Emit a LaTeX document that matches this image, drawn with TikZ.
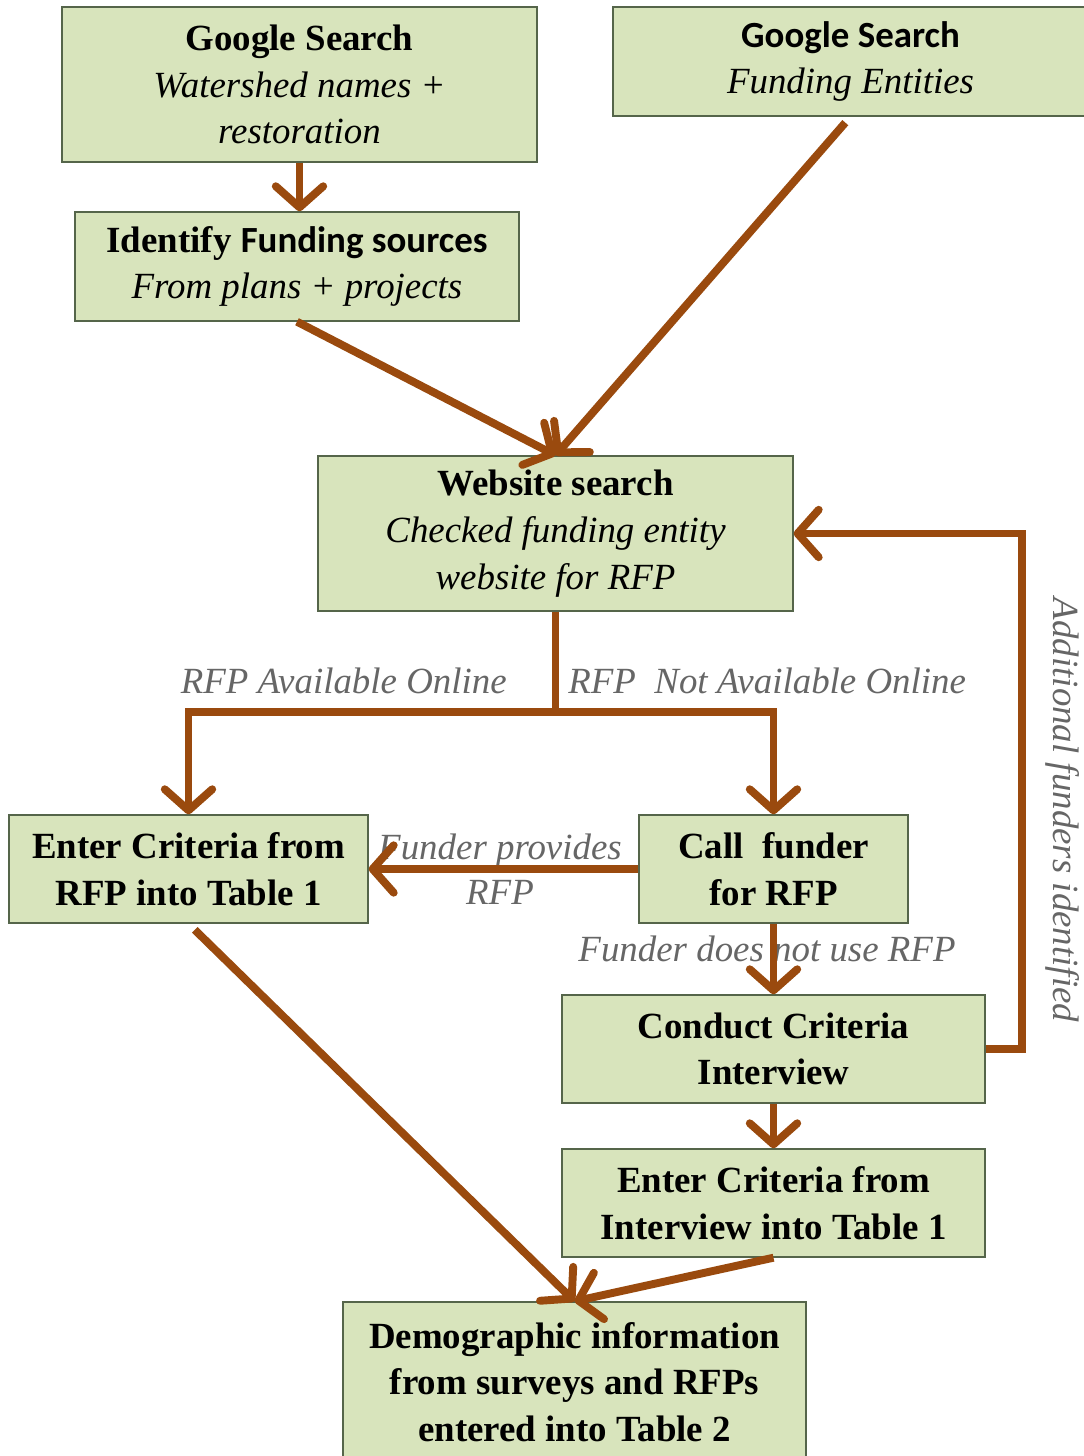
\documentclass[tikz,border=0pt]{standalone}
\usepackage{fontspec}
\setmainfont{Liberation Serif}
\newfontfamily\calibri{Carlito}
\usetikzlibrary{arrows.meta}
\definecolor{boxfill}{HTML}{D8E4BC}
\definecolor{boxline}{HTML}{55654A}
\definecolor{flowbrown}{HTML}{9A4A0E}
\definecolor{notegray}{HTML}{666666}

\begin{document}
\begin{tikzpicture}[x=0.02cm,y=-0.02cm,
        box/.style={draw=boxline,fill=boxfill,line width=0.8pt,align=center,
            inner sep=0pt,font=\fontsize{21}{26.6}\selectfont},
        flow/.style={draw=flowbrown,line width=4.5pt,
            -{Straight Barb[length=12pt,width=27pt,round]}},
        note/.style={text=notegray,inner sep=0pt,align=center,
            font=\fontsize{21}{25.5}\selectfont\itshape}]
        \fill[white] (0,0) rectangle (1084,1456);
        \useasboundingbox (0,0) rectangle (1084,1456);

        % Boxes
        \node[box,minimum width=9.5cm,minimum height=3.1cm] (gs1) at (299.5,84.5)
            {\textbf{Google Search}\\\textit{Watershed names +}\\\textit{restoration}};
        \node[box,minimum width=9.5cm,minimum height=2.18cm] (gs2) at (850.5,61.5)
            {{\calibri\bfseries Google Search}\\\textit{Funding Entities}};
        \node[box,minimum width=8.88cm,minimum height=2.18cm] (idf) at (297,266.5)
            {\textbf{Identify {\calibri Funding sources}}\\\textit{From plans + projects}};
        \node[box,minimum width=9.5cm,minimum height=3.1cm] (web) at (555.5,533.5)
            {\textbf{Website search}\\\textit{Checked funding entity}\\\textit{website for RFP}};
        \node[box,minimum width=7.18cm,minimum height=2.16cm] (rfp) at (188.5,869)
            {\textbf{Enter Criteria from}\\\textbf{RFP into Table 1}};
        \node[box,minimum width=5.38cm,minimum height=2.16cm] (call) at (773.5,869)
            {\textbf{Call\ \ funder}\\\textbf{for RFP}};
        \node[box,minimum width=8.46cm,minimum height=2.16cm] (cond) at (773.5,1049)
            {\textbf{Conduct Criteria}\\\textbf{Interview}};
        \node[box,minimum width=8.46cm,minimum height=2.16cm] (intv) at (773.5,1203)
            {\textbf{Enter Criteria from}\\\textbf{Interview into Table 1}};
        \node[box,minimum width=9.26cm,minimum height=3.2cm] (demo) at (574.5,1382)
            {\textbf{Demographic information}\\\textbf{from surveys and RFPs}\\\textbf{entered into Table 2}};

        % Labels
        \node[note,anchor=east] (lavail) at (507,681) {RFP Available Online};
        \node[note,anchor=west] (lnot) at (568,681) {RFP\ \ Not Available Online};
        \node[note] (lprov) at (500,869) {Funder provides\\RFP};
        \node[note] (lnouse) at (767,949) {Funder does not use RFP};
        \node[note,rotate=-90] (ladd) at (1063,810) {Additional funders identified};

        % Arrows
        \coordinate (split) at (555.5,712);
        \coordinate (back) at (1022,0);
        \draw[flow] (gs1.south) -- (gs1.south |- idf.north);
        \draw[flow] (idf.south) -- (web.north);
        \draw[flow,shorten <=4.5pt] (gs2.south) -- (web.north);
        \draw[flow,-] (web.south) -- (split);
        \draw[flow] (split) -| (rfp.north);
        \draw[flow] (split) -| (call.north);
        \draw[flow] (call.west) -- (rfp.east);
        \draw[flow] (call.south) -- (cond.north);
        \draw[flow] (cond.east) -- (cond.east -| back) |- (web.east);
        \draw[flow] (cond.south) -- (intv.north);
        \draw[flow,shorten <=5pt] (rfp.south) -- (demo.north);
        \draw[flow] (intv.south) -- (demo.north);
    \end{tikzpicture}
\end{document}
